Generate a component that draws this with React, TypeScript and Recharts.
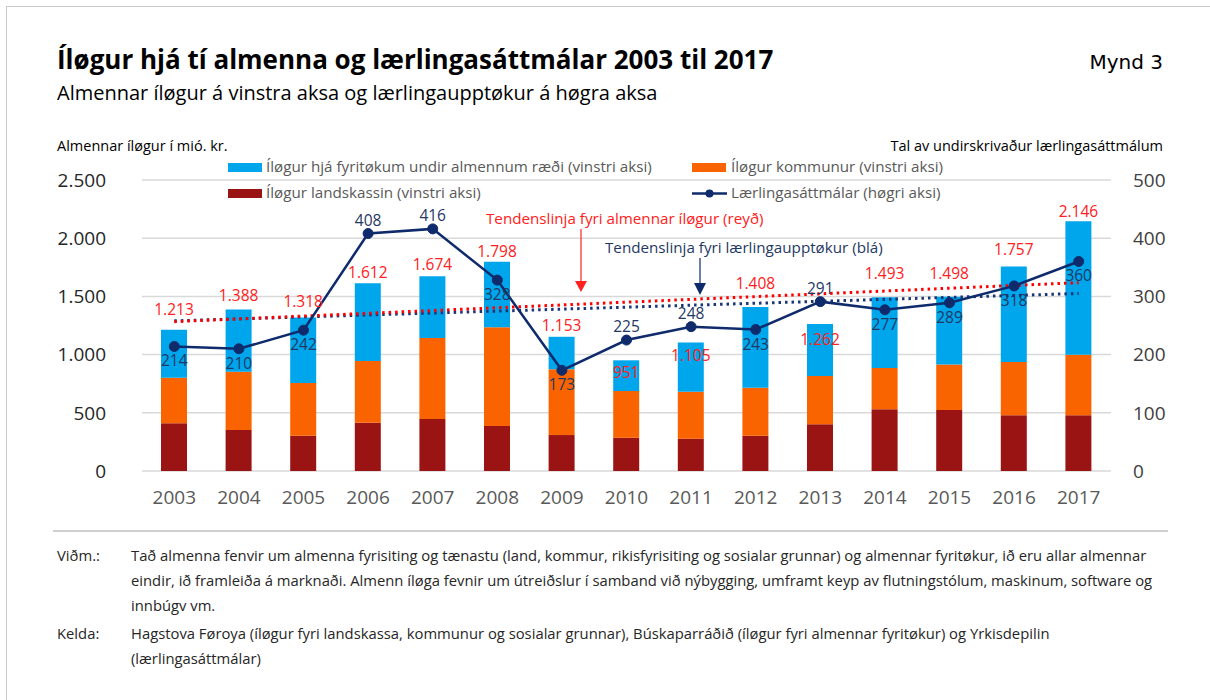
import {
  Bar,
  CartesianGrid,
  ComposedChart,
  LabelList,
  Line,
  ReferenceLine,
  XAxis,
  YAxis,
} from "recharts";

const years = ["2003", "2004", "2005", "2006", "2007", "2008", "2009", "2010", "2011", "2012", "2013", "2014", "2015", "2016", "2017"];
const landskassin = [410, 352, 303, 415, 447, 387, 309, 286, 278, 303, 401, 530, 524, 478, 478];
const kommunur = [391, 501, 453, 530, 696, 847, 565, 401, 403, 413, 415, 355, 392, 458, 521];
const fyritokur = [412, 535, 562, 667, 531, 564, 279, 264, 424, 692, 446, 608, 582, 821, 1147];
const totals = [1213, 1388, 1318, 1612, 1674, 1798, 1153, 951, 1105, 1408, 1262, 1493, 1498, 1757, 2146];
const laerlingar = [214, 210, 242, 408, 416, 328, 173, 225, 248, 243, 291, 277, 289, 318, 360];
const leftTicks = [0, 500, 1000, 1500, 2000, 2500];
const rightTicks = [0, 100, 200, 300, 400, 500];
// trend line ends, read at 2003 and 2017
const totalTrend = [1283, 1618];
const laerlingTrend = [258, 305];

// label placement (centre offset from bar top / point, px)
const totalLabelDy = [-20, -13, -16, -10, -11, -10, -11, 13, 14, -23, 16, -23, -23, -16, -9];
const lineLabelAbove = [false, false, false, true, true, false, false, true, true, false, true, false, false, false, false];

const C = {
  blue: "#00a6eb",
  orange: "#fa6400",
  darkred: "#9b1414",
  navy: "#0f2b6b",
  red: "#ff2020",
  grid: "#d9d9d9",
  legend: "#595959",
};

const rows = years.map((year, i) => ({
  year,
  land: landskassin[i],
  komm: kommunur[i],
  fyr: fyritokur[i],
  total: totals[i],
  appr: laerlingar[i],
}));

const fmt = (v: number) => v.toLocaleString("de-DE");

const font = "'Open Sans', sans-serif";

function TotalLabel(props: any) {
  const { x, y, width, index } = props;
  return (
    <text
      x={x + width / 2}
      y={y + totalLabelDy[index] + 5}
      textAnchor="middle"
      fill={C.red}
      fontSize={15.5}
      fontFamily={font}
    >
      {fmt(totals[index])}
    </text>
  );
}

function LineLabel(props: any) {
  const { x, y, index, value } = props;
  const dy = lineLabelAbove[index] ? -13 : 15;
  return (
    <text x={x} y={y + dy + 5} textAnchor="middle" fill="#1f3864" fontSize={15.5} fontFamily={font}>
      {value}
    </text>
  );
}

function Swatch({ x, y, color }: { x: number; y: number; color: string }) {
  return <rect x={x} y={y} width={34} height={9} fill={color} />;
}

export default function App() {
  return (
    <div style={{ position: "absolute", left: 0, top: 0, width: 1210, height: 700, background: "#fff", fontFamily: font }}>
      <div
        style={{
          position: "absolute",
          left: 6,
          top: 6,
          width: 1210,
          height: 700,
          borderLeft: "1.5px solid #c8c8c8",
          borderTop: "1.5px solid #c8c8c8",
        }}
      />
      <div style={{ position: "absolute", left: 0, top: 0 }}>
        <ComposedChart width={1210} height={540} data={rows} margin={{ top: 180, right: 39, bottom: 39, left: 82 }}>
          <CartesianGrid yAxisId="left" vertical={false} stroke={C.grid} strokeWidth={1.5} />
          <XAxis
            dataKey="year"
            tickLine={false}
            axisLine={false}
            tickSize={0}
            tickMargin={20}
            tick={{ fill: "#595959", fontSize: 19, fontFamily: font }}
          />
          <YAxis
            yAxisId="left"
            domain={[0, 2500]}
            ticks={leftTicks}
            tickFormatter={fmt}
            width={60}
            tickLine={false}
            axisLine={false}
            tickSize={0}
            tickMargin={36}
            tick={{ fill: "#262626", fontSize: 19, fontFamily: font }}
          />
          <YAxis
            yAxisId="right"
            orientation="right"
            domain={[0, 500]}
            ticks={rightTicks}
            width={60}
            tickLine={false}
            axisLine={false}
            tickSize={0}
            tickMargin={22}
            tick={{ fill: "#404040", fontSize: 19, fontFamily: font }}
          />
          <Bar yAxisId="left" dataKey="land" stackId="a" fill={C.darkred} barSize={26} isAnimationActive={false} />
          <Bar yAxisId="left" dataKey="komm" stackId="a" fill={C.orange} barSize={26} isAnimationActive={false} />
          <Bar yAxisId="left" dataKey="fyr" stackId="a" fill={C.blue} barSize={26} isAnimationActive={false}>
            <LabelList dataKey="total" content={TotalLabel} />
          </Bar>
          <ReferenceLine
            yAxisId="right"
            segment={[
              { x: years[0], y: laerlingTrend[0] },
              { x: years[years.length - 1], y: laerlingTrend[1] },
            ]}
            stroke="#1a3575"
            strokeWidth={3}
            strokeDasharray="2.5 4"
          />
          <ReferenceLine
            yAxisId="left"
            segment={[
              { x: years[0], y: totalTrend[0] },
              { x: years[years.length - 1], y: totalTrend[1] },
            ]}
            stroke="#ff0000"
            strokeWidth={3}
            strokeDasharray="2.5 4"
          />
          <Line
            yAxisId="right"
            dataKey="appr"
            stroke={C.navy}
            strokeWidth={2.5}
            dot={{ r: 5, fill: C.navy, stroke: C.navy, strokeWidth: 1 }}
            isAnimationActive={false}
          >
            <LabelList dataKey="appr" content={LineLabel} />
          </Line>
        </ComposedChart>
      </div>
      <svg width={1210} height={700} style={{ position: "absolute", left: 0, top: 0, pointerEvents: "none" }} fontFamily={font}>
        <text x={57} y={69} fontSize={26} fontWeight={700} fill="#000">
          Íløgur hjá tí almenna og lærlingasáttmálar 2003 til 2017
        </text>
        <text x={1163} y={69} fontSize={20} textAnchor="end" fill="#000" fontFamily="'DejaVu Sans', sans-serif">
          Mynd 3
        </text>
        <text x={57} y={100} fontSize={20} fill="#000">
          Almennar íløgur á vinstra aksa og lærlingaupptøkur á høgra aksa
        </text>
        <text x={57} y={151} fontSize={14.5} fill="#000">
          Almennar íløgur í mió. kr.
        </text>
        <text x={1163} y={151} fontSize={14.5} textAnchor="end" fill="#000">
          Tal av undirskrivaður lærlingasáttmálum
        </text>

        <Swatch x={228} y={163} color={C.blue} />
        <text x={266} y={172} fontSize={15.2} fill={C.legend}>
          Íløgur hjá fyritøkum undir almennum ræði (vinstri aksi)
        </text>
        <Swatch x={692} y={163} color={C.orange} />
        <text x={731} y={172} fontSize={15.2} fill={C.legend}>
          Íløgur kommunur (vinstri aksi)
        </text>
        <Swatch x={228} y={189} color={C.darkred} />
        <text x={266} y={198} fontSize={15.2} fill={C.legend}>
          Íløgur landskassin (vinstri aksi)
        </text>
        <line x1={692} y1={193.5} x2={727} y2={193.5} stroke={C.navy} strokeWidth={2.5} />
        <circle cx={709.5} cy={193.5} r={4} fill={C.navy} />
        <text x={731} y={198} fontSize={15.2} fill={C.legend}>
          Lærlingasáttmálar (høgri aksi)
        </text>

        <text x={486} y={224} fontSize={15.2} fill={C.red}>
          Tendenslinja fyri almennar íløgur (reyð)
        </text>
        <line x1={581} y1={229} x2={581} y2={282} stroke={C.red} strokeWidth={1.2} />
        <polygon points="575,281 587,281 581,292" fill={C.red} />
        <text x={605} y={253} fontSize={15.2} fill="#1f3864">
          Tendenslinja fyri lærlingaupptøkur (blá)
        </text>
        <line x1={700} y1={258} x2={700} y2={284} stroke={C.navy} strokeWidth={1.2} />
        <polygon points="694,283 706,283 700,295" fill={C.navy} />

        <line x1={53} y1={531} x2={1168} y2={531} stroke="#bfbfbf" strokeWidth={1.5} />
        <g fontSize={14.8} fill="#262626">
          <text x={57} y={561}>Viðm.:</text>
          <text x={131} y={561}>
            Tað almenna fenvir um almenna fyrisiting og tænastu (land, kommur, rikisfyrisiting og sosialar grunnar) og almennar fyritøkur, ið eru allar almennar
          </text>
          <text x={131} y={586}>
            eindir, ið framleiða á marknaði. Almenn íløga fevnir um útreiðslur í samband við nýbygging, umframt keyp av flutningstólum, maskinum, software og
          </text>
          <text x={131} y={611}>innbúgv vm.</text>
          <text x={57} y={639}>Kelda:</text>
          <text x={131} y={639}>
            Hagstova Føroya (íløgur fyri landskassa, kommunur og sosialar grunnar), Búskaparráðið (íløgur fyri almennar fyritøkur) og Yrkisdepilin
          </text>
          <text x={131} y={664}>(lærlingasáttmálar)</text>
        </g>
      </svg>
    </div>
  );
}
